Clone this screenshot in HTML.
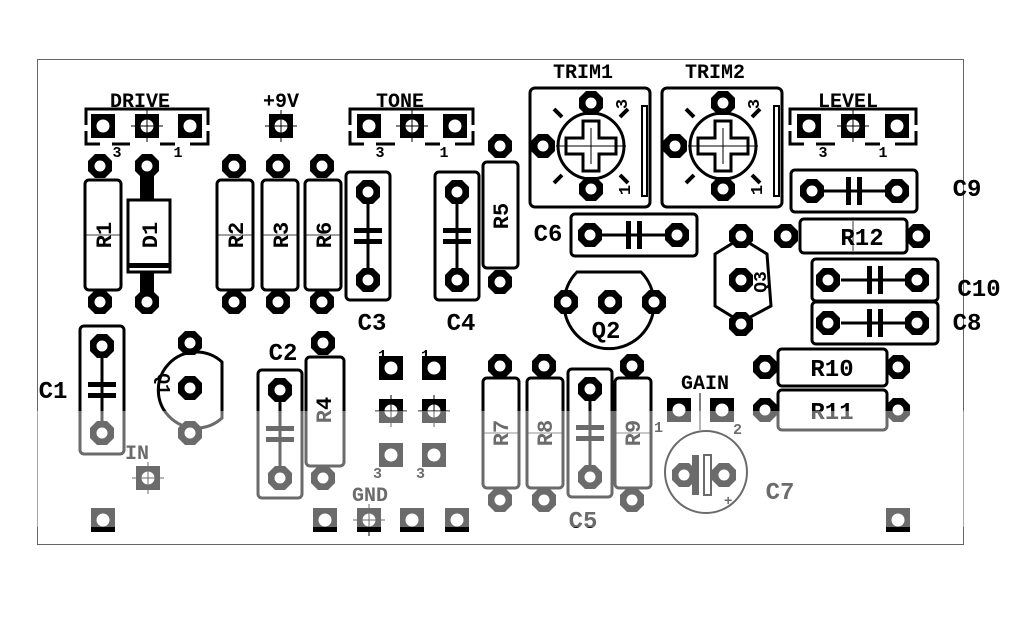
<!DOCTYPE html>
<html><head><meta charset="utf-8"><style>
html,body{margin:0;padding:0;background:#fff;width:1024px;height:626px;overflow:hidden}
svg{display:block}
text{font-family:"Liberation Mono",monospace;font-weight:bold;fill:#000}
</style></head><body>
<svg width="1024" height="626" viewBox="0 0 1024 626" xmlns="http://www.w3.org/2000/svg">
<defs>
<g id="op"><polygon points="-5,-12 5,-12 12,-5 12,5 5,12 -5,12 -12,5 -12,-5" fill="#000"/><circle r="5.5" fill="#fff"/></g>
<g id="sp"><rect x="-12" y="-12" width="24" height="24" fill="#000"/><circle r="6.5" fill="#fff"/></g>
<g id="spx"><rect x="-12" y="-12" width="24" height="24" fill="#000"/><circle r="6.5" fill="#fff"/><line x1="-16" y1="0" x2="16" y2="0" stroke="#000" stroke-width="1"/><line x1="0" y1="-16" x2="0" y2="16" stroke="#000" stroke-width="1"/></g>
<g id="rv"><rect x="-18" y="-55" width="36" height="110" rx="4" fill="#fff" stroke="#000" stroke-width="3"/><line x1="-18" y1="0" x2="18" y2="0" stroke="#000" stroke-width="0.8"/></g>
<g id="cv"><rect x="-22" y="-64" width="44" height="128" rx="4" fill="none" stroke="#000" stroke-width="3"/><line x1="0" y1="-34" x2="0" y2="34" stroke="#000" stroke-width="3"/><rect x="-14" y="-8" width="28" height="5" fill="#000"/><rect x="-14" y="3" width="28" height="5" fill="#000"/></g>
<g id="ch"><rect x="-63" y="-21" width="126" height="42" rx="4" fill="none" stroke="#000" stroke-width="3"/><line x1="-34" y1="0" x2="34" y2="0" stroke="#000" stroke-width="3"/><rect x="-8" y="-14" width="5" height="28" fill="#000"/><rect x="3" y="-14" width="5" height="28" fill="#000"/></g>
</defs>
<rect x="37.5" y="59.5" width="926" height="485" fill="none" stroke="#666" stroke-width="1"/>

<g font-size="20">
<text x="140" y="107" text-anchor="middle">DRIVE</text>
<text x="281" y="107" text-anchor="middle">+9V</text>
<text x="400" y="107" text-anchor="middle">TONE</text>
<text x="848" y="107" text-anchor="middle">LEVEL</text>
<text x="583" y="78" text-anchor="middle">TRIM1</text>
<text x="715" y="78" text-anchor="middle">TRIM2</text>
<text x="705" y="389" text-anchor="middle">GAIN</text>
<text x="370" y="501" text-anchor="middle">GND</text>
<text x="137" y="459" text-anchor="middle">IN</text>
</g>
<g fill="none" stroke="#000" stroke-width="3">
<path d="M86,125 V109 H208 V125 M86,131 V144 H100 M112,144 H130 M160,144 H175 M190,144 H208 V131"/>
<path d="M350,125 V109 H473 V125 M350,131 V144 H364 M376,144 H395 M425,144 H440 M455,144 H473 V131"/>
<path d="M790,125 V109 H916 V125 M790,131 V144 H804 M816,144 H835 M865,144 H880 M895,144 H916 V131"/>
</g>
<use href="#sp" x="103" y="126"/><use href="#spx" x="147" y="126"/><use href="#sp" x="190" y="126"/>
<use href="#spx" x="281" y="126"/>
<use href="#sp" x="369" y="126"/><use href="#spx" x="412" y="126"/><use href="#sp" x="455" y="126"/>
<use href="#sp" x="809" y="126"/><use href="#spx" x="853" y="126"/><use href="#sp" x="897" y="126"/>
<g font-size="15" font-weight="normal">
<text x="117" y="157" text-anchor="middle">3</text><text x="178" y="157" text-anchor="middle">1</text>
<text x="380" y="157" text-anchor="middle">3</text><text x="444" y="157" text-anchor="middle">1</text>
<text x="823" y="157" text-anchor="middle">3</text><text x="883" y="157" text-anchor="middle">1</text>
</g>

<use href="#op" x="100" y="166"/><use href="#op" x="100" y="302"/>
<use href="#rv" x="103" y="235"/>
<line x1="147" y1="166" x2="147" y2="302" stroke="#000" stroke-width="14"/>
<use href="#op" x="147" y="166"/><use href="#op" x="147" y="302"/>
<rect x="128" y="200" width="42" height="72" fill="#fff" stroke="#000" stroke-width="3"/>
<rect x="128" y="263" width="42" height="5" fill="#000"/>
<use href="#op" x="234" y="166"/><use href="#op" x="234" y="302"/><use href="#rv" x="235" y="235"/>
<use href="#op" x="278" y="166"/><use href="#op" x="278" y="302"/><use href="#rv" x="280" y="235"/>
<use href="#op" x="322" y="166"/><use href="#op" x="322" y="302"/><use href="#rv" x="323" y="235"/>
<use href="#cv" x="368" y="236"/><use href="#op" x="368" y="192"/><use href="#op" x="368" y="280"/>
<use href="#cv" x="457" y="236"/><use href="#op" x="457" y="192"/><use href="#op" x="457" y="280"/>
<use href="#op" x="500" y="146"/><use href="#op" x="500" y="282"/>
<rect x="483" y="162" width="35" height="106" rx="4" fill="#fff" stroke="#000" stroke-width="3"/>

<g id="trim">
<rect x="530" y="88" width="120" height="119" rx="5" fill="none" stroke="#000" stroke-width="3"/>
<rect x="642" y="106" width="5" height="90" fill="none" stroke="#000" stroke-width="2"/>
<circle cx="591" cy="146" r="33" fill="none" stroke="#000" stroke-width="3"/>
<path d="M583,121 h16 v17 h17 v16 h-17 v17 h-16 v-17 h-17 v-16 h17 z" fill="none" stroke="#000" stroke-width="3"/>
<line x1="556" y1="146" x2="626" y2="146" stroke="#000" stroke-width="1"/>
<line x1="591" y1="128" x2="591" y2="164" stroke="#000" stroke-width="1"/>
<g stroke="#000" stroke-width="4"><line x1="554" y1="109" x2="562" y2="117"/><line x1="628" y1="109" x2="620" y2="117"/><line x1="554" y1="183" x2="562" y2="175"/><line x1="628" y1="183" x2="620" y2="175"/></g>
<use href="#op" x="591" y="103"/><use href="#op" x="591" y="189"/><use href="#op" x="543" y="146"/>
<text transform="translate(627,104) rotate(-90)" font-size="17" text-anchor="middle">3</text>
<text transform="translate(630,190) rotate(-90)" font-size="17" text-anchor="middle">1</text>
</g>
<use href="#trim" x="132" y="0"/>

<use href="#ch" x="854" y="191"/><use href="#op" x="812" y="191"/><use href="#op" x="897" y="191"/>
<use href="#ch" x="634" y="235"/><use href="#op" x="590" y="235"/><use href="#op" x="677" y="235"/>
<use href="#op" x="786" y="236"/><use href="#op" x="918" y="236"/>
<rect x="800" y="219" width="107" height="34" rx="4" fill="#fff" stroke="#000" stroke-width="3"/>
<line x1="853" y1="221" x2="853" y2="251" stroke="#000" stroke-width="0.8"/>
<path d="M715,254 L741,238 L767,254 L771,306 L741,322 L715,306 Z" fill="none" stroke="#000" stroke-width="3"/>
<use href="#op" x="741" y="236"/><use href="#op" x="741" y="280"/><use href="#op" x="741" y="324"/>
<text transform="translate(766,282) rotate(-90)" font-size="18" text-anchor="middle">Q3</text>
<use href="#ch" x="875" y="280"/><use href="#op" x="828" y="280"/><use href="#op" x="917" y="280"/>
<use href="#ch" x="875" y="323"/><use href="#op" x="828" y="323"/><use href="#op" x="917" y="323"/>
<path d="M577,272 H641 A45,45 0 1 1 577,272 Z" fill="none" stroke="#000" stroke-width="3"/>
<use href="#op" x="566" y="302"/><use href="#op" x="610" y="302"/><use href="#op" x="654" y="302"/>

<use href="#cv" x="102" y="390"/><use href="#op" x="102" y="346"/><use href="#op" x="102" y="433"/>
<path d="M222,362 A38,38 0 1 0 222,418 Z" fill="none" stroke="#000" stroke-width="3"/>
<use href="#op" x="190" y="343"/><use href="#op" x="190" y="388"/><use href="#op" x="190" y="433"/>
<text transform="translate(158,384) rotate(90)" font-size="18" text-anchor="middle">Q1</text>
<use href="#spx" x="148" y="478"/>
<use href="#cv" x="280" y="434"/><use href="#op" x="280" y="390"/><use href="#op" x="280" y="478"/>
<use href="#op" x="323" y="343"/><use href="#op" x="323" y="478"/>
<rect x="306" y="357" width="38" height="109" rx="4" fill="#fff" stroke="#000" stroke-width="3"/>
<use href="#sp" x="391" y="368"/><use href="#sp" x="434" y="368"/>
<use href="#spx" x="391" y="411"/><use href="#spx" x="434" y="411"/>
<use href="#sp" x="391" y="455"/><use href="#sp" x="434" y="455"/>
<g font-size="15" font-weight="normal"><text x="378" y="360">1</text><text x="421" y="360">1</text><text x="373" y="478">3</text><text x="416" y="478">3</text></g>
<use href="#sp" x="103" y="520"/><use href="#sp" x="325" y="520"/><use href="#spx" x="369" y="520"/><use href="#sp" x="412" y="520"/><use href="#sp" x="457" y="520"/><use href="#sp" x="898" y="520"/>
<use href="#op" x="500" y="366"/><use href="#op" x="500" y="500"/><use href="#rv" x="501" y="433"/>
<use href="#op" x="544" y="366"/><use href="#op" x="544" y="500"/><use href="#rv" x="545" y="433"/>
<use href="#op" x="632" y="366"/><use href="#op" x="632" y="500"/><use href="#rv" x="633" y="433"/>
<use href="#cv" x="590" y="433"/><use href="#op" x="590" y="389"/><use href="#op" x="590" y="477"/>
<use href="#sp" x="679" y="410"/><use href="#sp" x="722" y="410"/>
<line x1="700" y1="393" x2="700" y2="430" stroke="#000" stroke-width="1"/>
<g font-size="15" font-weight="normal"><text x="654" y="432">1</text><text x="733" y="434">2</text></g>
<circle cx="706" cy="472" r="41" fill="none" stroke="#000" stroke-width="2"/>
<use href="#op" x="684" y="475"/><use href="#op" x="724" y="475"/>
<rect x="692" y="455" width="7" height="40" fill="#000"/><rect x="704" y="455" width="7" height="40" fill="#fff" stroke="#000" stroke-width="2"/>
<text x="724" y="505" font-size="14">+</text>
<use href="#op" x="765" y="367"/><use href="#op" x="898" y="367"/>
<rect x="778" y="349" width="109" height="37" rx="4" fill="#fff" stroke="#000" stroke-width="3"/>
<use href="#op" x="765" y="410"/><use href="#op" x="898" y="410"/>
<rect x="778" y="390" width="109" height="40" rx="4" fill="#fff" stroke="#000" stroke-width="3"/>

<g font-size="22" font-weight="normal">
<text transform="translate(111,235) rotate(-90)" text-anchor="middle">R1</text>
<text transform="translate(157,235) rotate(-90)" text-anchor="middle">D1</text>
<text transform="translate(243,235) rotate(-90)" text-anchor="middle">R2</text>
<text transform="translate(288,235) rotate(-90)" text-anchor="middle">R3</text>
<text transform="translate(331,235) rotate(-90)" text-anchor="middle">R6</text>
<text transform="translate(508,216) rotate(-90)" text-anchor="middle">R5</text>
<text transform="translate(331,410) rotate(-90)" text-anchor="middle">R4</text>
<text transform="translate(508,433) rotate(-90)" text-anchor="middle">R7</text>
<text transform="translate(552,433) rotate(-90)" text-anchor="middle">R8</text>
<text transform="translate(640,433) rotate(-90)" text-anchor="middle">R9</text>
</g>
<g font-size="24" font-weight="normal">
<text x="372" y="330" text-anchor="middle">C3</text>
<text x="461" y="330" text-anchor="middle">C4</text>
<text x="548" y="241" text-anchor="middle">C6</text>
<text x="967" y="196" text-anchor="middle">C9</text>
<text x="979" y="296" text-anchor="middle">C10</text>
<text x="967" y="330" text-anchor="middle">C8</text>
<text x="862" y="245" text-anchor="middle">R12</text>
<text x="606" y="338" text-anchor="middle">Q2</text>
<text x="53" y="398" text-anchor="middle">C1</text>
<text x="283" y="360" text-anchor="middle">C2</text>
<text x="583" y="528" text-anchor="middle">C5</text>
<text x="780" y="499" text-anchor="middle">C7</text>
<text x="832" y="376" text-anchor="middle">R10</text>
<text x="832" y="419" text-anchor="middle">R11</text>
</g>

<rect x="0" y="411" width="1024" height="116" fill="#fff" opacity="0.42"/>
</svg>
</body></html>
